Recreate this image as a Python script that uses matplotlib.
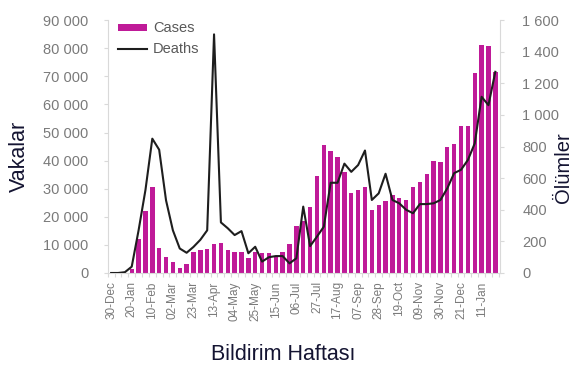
import matplotlib
matplotlib.use("Agg")
import matplotlib.pyplot as plt
from matplotlib.ticker import FuncFormatter, MultipleLocator
import numpy as np

# Weekly data, week starting 30-Dec-2019 (57 weeks)
cases = [0, 0, 0, 1300, 12000, 22200, 30700, 8800, 5600, 4000,
         1650, 3200, 7400, 8200, 8500, 10200, 10800, 8200, 7600, 7600,
         5200, 7600, 7000, 7000, 6200, 7600, 10200, 16700, 18500, 23600,
         34600, 45500, 43500, 41200, 35800, 28400, 29500, 30700, 22400, 24200,
         25600, 27700, 26600, 26000, 30700, 32400, 35200, 40000, 39400, 44700,
         45900, 52400, 52400, 71300, 81100, 80900, 71600]
deaths = [0, 0, 5, 40, 270, 525, 850, 780, 460, 270,
          155, 128, 165, 210, 270, 1510, 320, 283, 240, 265,
          125, 166, 72, 100, 107, 107, 61, 93, 420, 170,
          230, 293, 571, 571, 692, 640, 683, 775, 462, 504,
          628, 462, 441, 400, 378, 436, 436, 441, 462, 536,
          632, 653, 715, 820, 1115, 1062, 1273]
tick_labels = ["30-Dec", "20-Jan", "10-Feb", "02-Mar", "23-Mar", "13-Apr",
               "04-May", "25-May", "15-Jun", "06-Jul", "27-Jul", "17-Aug",
               "07-Sep", "28-Sep", "19-Oct", "09-Nov", "30-Nov", "21-Dec",
               "11-Jan"]
label_step = 3

plt.rcParams['font.family'] = ['Liberation Sans', 'DejaVu Sans']

bar_color = "#BF1A98"
line_color = "#1e1e1e"
tick_gray = "#7a7a7a"
axis_gray = "#d9d9d9"
label_dark = "#141432"

W, H = 587, 380
fig = plt.figure(figsize=(W / 100, H / 100), dpi=100)
ax = fig.add_axes([0.1835, 0.2816, 0.852 - 0.1835, 0.947 - 0.2816])
ax2 = ax.twinx()

x = np.arange(len(cases))
ax.bar(x, cases, width=0.64, color=bar_color, label="Cases", zorder=2)
ax2.plot(x, deaths, color=line_color, lw=1.5, label="Deaths", zorder=3)

ax.set_xlim(-0.15, len(cases) - 0.3)
ax.set_ylim(0, 90000)
ax2.set_ylim(0, 1600)
ax.yaxis.set_major_locator(MultipleLocator(10000))
ax2.yaxis.set_major_locator(MultipleLocator(200))

fmt = FuncFormatter(lambda v, p: f"{int(v):,}".replace(",", " "))
ax.yaxis.set_major_formatter(fmt)
ax2.yaxis.set_major_formatter(fmt)

ax.set_xticks(np.arange(0, len(cases), label_step))
ax.set_xticklabels(tick_labels, rotation=90)
ax.set_xticks(np.arange(-0.5, len(cases), 1), minor=True)

for a in (ax, ax2):
    for s in a.spines.values():
        s.set_color(axis_gray)
    a.spines['top'].set_visible(False)
ax.spines['right'].set_visible(False)
ax2.spines['left'].set_visible(False)
ax2.spines['bottom'].set_visible(False)

ax.tick_params(axis='y', colors=axis_gray, labelcolor=tick_gray, labelsize=10.5,
               length=3, width=0.8, pad=11)
ax2.tick_params(axis='y', colors=axis_gray, labelcolor=tick_gray, labelsize=10.5,
                length=3, width=0.8, pad=13)
ax.tick_params(axis='x', which='major', length=0, labelsize=8.5,
               labelcolor=tick_gray, pad=6)
ax.tick_params(axis='x', which='minor', length=3, width=0.8, color=axis_gray)

# Axis titles placed in figure pixel coordinates (centres)
fig.text(19 / W, 1 - 156 / H, "Vakalar", rotation=90, fontsize=15.5,
         color=label_dark, ha='center', va='center')
fig.text(564 / W, 1 - 168 / H, "Ölümler", rotation=90, fontsize=14.5,
         color=label_dark, ha='center', va='center')
fig.text(283 / W, 1 - 355 / H, "Bildirim Haftası", fontsize=15.5,
         color=label_dark, ha='center', va='center')

h1, l1 = ax.get_legend_handles_labels()
h2, l2 = ax2.get_legend_handles_labels()
leg = ax2.legend(h1 + h2, l1 + l2, loc='upper left', frameon=False,
                 fontsize=10.5, bbox_to_anchor=(0.0, 1.035), handlelength=2.0,
                 handleheight=0.4, handletextpad=0.4, labelspacing=0.45,
                 borderaxespad=0.3)
for t in leg.get_texts():
    t.set_color("#595959")

fig.savefig("out.png", dpi=100)
